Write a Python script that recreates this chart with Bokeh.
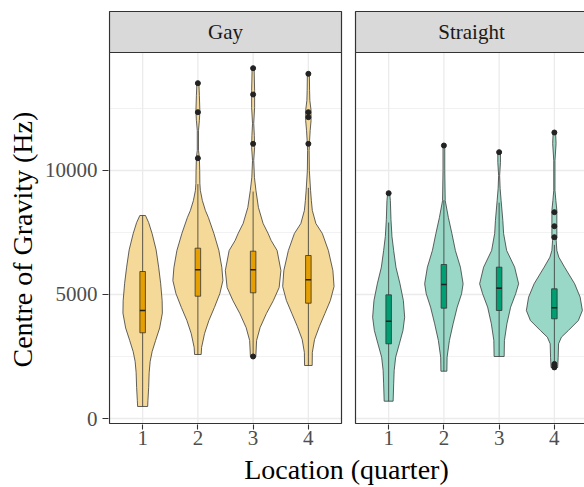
from bokeh.plotting import figure
from bokeh.models import Range1d, FixedTicker, CustomJSTickFormatter, Title, Label
from bokeh.embed import file_html
from bokeh.resources import INLINE

# ---------------- data ----------------
groups = ["Gay", "Straight"]
quarters = [1, 2, 3, 4]
y_ticks = [0, 5000, 10000]
y_minor = [2500, 7500, 12500]

# violin outlines: centre of gravity (Hz) and half-width (x units), bottom to top
gay1_y = [484, 726, 1250, 1850, 2300, 2700, 3150, 3650, 4250, 4750, 5450, 6100, 6800, 7450, 7900, 8185]
gay1_w = [0.091, 0.096, 0.109, 0.118, 0.136, 0.172, 0.235, 0.308, 0.357, 0.353, 0.326, 0.290, 0.244, 0.172, 0.109, 0.051]
gay2_y = [2580, 2863, 3427, 3951, 4476, 5040, 5564, 6088, 6774, 7459, 8104, 8387, 8790, 9193, 9475, 9999, 10524, 10806, 11612, 12015, 12378, 13023, 13520]
gay2_w = [0.060, 0.067, 0.121, 0.199, 0.299, 0.398, 0.453, 0.434, 0.380, 0.290, 0.190, 0.136, 0.081, 0.045, 0.036, 0.033, 0.027, 0.011, 0.011, 0.027, 0.036, 0.027, 0.018]
gay3_y = [2500, 3145, 3669, 4234, 4758, 5282, 5967, 6774, 7177, 7459, 7863, 8508, 9193, 9717, 10403, 10927, 11410, 11894, 12540, 13225, 14124]
gay3_w = [0.049, 0.063, 0.127, 0.241, 0.367, 0.471, 0.503, 0.434, 0.326, 0.272, 0.181, 0.096, 0.051, 0.024, 0.011, 0.027, 0.022, 0.011, 0.027, 0.027, 0.018]
gay4_y = [2137, 2661, 3185, 3709, 4234, 4758, 5322, 5967, 6774, 7459, 7863, 8387, 8790, 9193, 9999, 10806, 11209, 11612, 12015, 12419, 12822, 13225, 13898]
gay4_w = [0.069, 0.072, 0.112, 0.199, 0.299, 0.398, 0.465, 0.444, 0.362, 0.253, 0.136, 0.072, 0.054, 0.040, 0.018, 0.014, 0.022, 0.033, 0.049, 0.049, 0.027, 0.022, 0.018]

str1_y = [698, 1397, 1935, 2472, 3012, 3548, 4084, 4758, 5431, 6101, 6774, 7338, 8024, 8790, 9084]
str1_w = [0.081, 0.091, 0.100, 0.127, 0.194, 0.259, 0.290, 0.266, 0.205, 0.132, 0.091, 0.060, 0.042, 0.031, 0.018]
str2_y = [1907, 2472, 3145, 3818, 4488, 5028, 5431, 6101, 6774, 7459, 8104, 8790, 10000, 11007]
str2_w = [0.054, 0.058, 0.100, 0.167, 0.241, 0.320, 0.348, 0.299, 0.208, 0.145, 0.081, 0.024, 0.016, 0.016]
str3_y = [2500, 3145, 3818, 4488, 5028, 5431, 6101, 6774, 7459, 7984, 8790, 9274, 9798, 10322, 10725]
str3_w = [0.091, 0.096, 0.141, 0.208, 0.299, 0.353, 0.281, 0.136, 0.081, 0.067, 0.036, 0.018, 0.009, 0.024, 0.024]
str4_y = [2056, 2460, 3012, 3278, 3548, 3951, 4355, 4891, 5431, 6101, 6504, 6774, 7177, 7310, 7782, 8387, 8790, 9193, 10403, 11088, 11532]
str4_w = [0.060, 0.069, 0.076, 0.127, 0.253, 0.434, 0.507, 0.467, 0.367, 0.185, 0.081, 0.045, 0.033, 0.045, 0.045, 0.045, 0.027, 0.011, 0.011, 0.031, 0.022]

# box plots
gay_q1 = [3455, 4931, 5068, 4649]
gay_med = [4355, 5995, 5995, 5592]
gay_q3 = [5927, 6867, 6746, 6572]
gay_wlo = [484, 2580, 2540, 2137]
gay_whi = [8185, 9450, 9150, 9300]
str_q1 = [3012, 4449, 4355, 4020]
str_med = [3924, 5403, 5255, 4463]
str_q3 = [4986, 6209, 6102, 5229]
str_wlo = [698, 1907, 2500, 2300]
str_whi = [7900, 8800, 8700, 7000]

# outliers
gay_out_q = [2, 2, 2, 3, 3, 3, 3, 4, 4, 4, 4]
gay_out_hz = [10495, 12350, 13520, 2500, 11076, 13064, 14124, 11076, 12150, 12350, 13898]
str_out_q = [1, 2, 3, 4, 4, 4, 4, 4, 4, 4]
str_out_hz = [9084, 11007, 10738, 2060, 2130, 2200, 7310, 7754, 8319, 11531]

# ---------------- layout constants ----------------
HZ_PER_PX = 40.32
PX_PER_UNIT = 55.24
OFF = 4.2 + 14 / PX_PER_UNIT          # x shift of the second facet
X0 = 0.4 - 1 / PX_PER_UNIT
X1 = X0 + 476 / PX_PER_UNIT
Y0 = -6 * HZ_PER_PX
Y1 = 408 * HZ_PER_PX
PANEL_BOTTOM = -5 * HZ_PER_PX
PANEL_TOP = 366 * HZ_PER_PX
STRIP_TOP = 407 * HZ_PER_PX
STRIP_MID = 386.5 * HZ_PER_PX

FONT = "Liberation Serif"
fills = {"Gay": "#F5D999", "Straight": "#99D8C7"}
box_fills = {"Gay": "#E69F00", "Straight": "#009E73"}
offsets = {"Gay": 0.0, "Straight": OFF}

violins = {
    "Gay": [(gay1_y, gay1_w), (gay2_y, gay2_w), (gay3_y, gay3_w), (gay4_y, gay4_w)],
    "Straight": [(str1_y, str1_w), (str2_y, str2_w), (str3_y, str3_w), (str4_y, str4_w)],
}
boxes = {
    "Gay": (gay_q1, gay_med, gay_q3, gay_wlo, gay_whi),
    "Straight": (str_q1, str_med, str_q3, str_wlo, str_whi),
}
outliers = {"Gay": (gay_out_q, gay_out_hz), "Straight": (str_out_q, str_out_hz)}

p = figure(width=584, height=487, x_range=Range1d(X0, X1), y_range=Range1d(Y0, Y1),
           output_backend="svg", toolbar_location=None, title=None,
           min_border_left=108, min_border_right=0, min_border_top=10, min_border_bottom=63)
p.outline_line_color = None
p.xgrid.visible = False
p.ygrid.visible = False
p.background_fill_color = "white"
p.border_fill_color = "white"

# grid lines per panel
for g in groups:
    o = offsets[g]
    p.segment(x0=[0.4 + o] * 3, x1=[4.6 + o] * 3, y0=y_minor, y1=y_minor,
              line_color="#EBEBEB", line_width=0.7)
    p.segment(x0=[0.4 + o] * 3, x1=[4.6 + o] * 3, y0=y_ticks, y1=y_ticks,
              line_color="#EBEBEB", line_width=1.3)
    p.segment(x0=[q + o for q in quarters], x1=[q + o for q in quarters],
              y0=[PANEL_BOTTOM] * 4, y1=[PANEL_TOP] * 4,
              line_color="#EBEBEB", line_width=1.3)

# violins
for g in groups:
    o = offsets[g]
    xs, ys = [], []
    for q, (vy, vw) in zip(quarters, violins[g]):
        c = q + o
        xs.append([c - w for w in vw] + [c + w for w in reversed(vw)])
        ys.append(list(vy) + list(reversed(vy)))
    p.patches(xs, ys, fill_color=fills[g], fill_alpha=1.0,
              line_color="#3A3A3A", line_width=0.8)

# box plots
for g in groups:
    o = offsets[g]
    q1, med, q3, wlo, whi = boxes[g]
    cx = [q + o for q in quarters]
    p.segment(x0=cx, x1=cx, y0=wlo, y1=whi, line_color="#333333", line_width=0.8)
    p.quad(left=[c - 0.05 for c in cx], right=[c + 0.05 for c in cx], bottom=q1, top=q3,
           fill_color=box_fills[g], line_color="#333333", line_width=0.8)
    p.segment(x0=[c - 0.05 for c in cx], x1=[c + 0.05 for c in cx], y0=med, y1=med,
              line_color="#222222", line_width=1.6)
    oq, ohz = outliers[g]
    p.scatter(x=[q + o for q in oq], y=ohz, size=5, fill_color="#222222", line_color="#222222")

# panel borders and strips
lefts = [0.4 + offsets[g] for g in groups]
rights = [4.6 + offsets[g] for g in groups]
p.quad(left=lefts, right=rights, bottom=[PANEL_BOTTOM] * 2, top=[PANEL_TOP] * 2,
       fill_color=None, line_color="#333333", line_width=1.2)
p.quad(left=lefts, right=rights, bottom=[PANEL_TOP] * 2, top=[STRIP_TOP] * 2,
       fill_color="#D9D9D9", line_color="#333333", line_width=1.2)
for g, l, r in zip(groups, lefts, rights):
    p.add_layout(Label(x=(l + r) / 2, y=STRIP_MID, text=g, text_font=FONT,
                       text_font_size="21px", text_align="center", text_baseline="middle",
                       text_color="#1A1A1A"))

# axes
p.yaxis.ticker = FixedTicker(ticks=y_ticks, minor_ticks=[])
p.xaxis.ticker = FixedTicker(ticks=[q + offsets[g] for g in groups for q in quarters], minor_ticks=[])
p.xaxis.formatter = CustomJSTickFormatter(args=dict(off=OFF, split=4.6),
                                          code="return String(Math.round(tick > split ? tick - off : tick));")
for ax in (p.xaxis, p.yaxis):
    ax.axis_line_color = None
    ax.major_tick_line_color = "#333333"
    ax.major_tick_line_width = 1.1
    ax.major_tick_in = 0
    ax.minor_tick_out = 0
    ax.minor_tick_in = 0
    ax.major_label_text_font = FONT
    ax.major_label_text_font_size = "21px"
    ax.major_label_text_color = "#4D4D4D"
p.yaxis.major_tick_out = 6
p.yaxis.major_label_standoff = 5
p.xaxis.major_tick_out = 5
p.xaxis.major_label_standoff = 1

# axis titles
p.xaxis.axis_label = "Location (quarter)"
p.xaxis.axis_label_text_font = FONT
p.xaxis.axis_label_text_font_size = "28px"
p.xaxis.axis_label_text_font_style = "normal"
p.xaxis.axis_label_text_color = "black"
p.xaxis.axis_label_standoff = 6

p.add_layout(Title(text="Centre of Gravity (Hz)", align="left", offset=57,
                   text_font=FONT, text_font_size="28px", text_font_style="normal",
                   text_color="black", standoff=8), "left")

open("out.html", "w").write(file_html(p, INLINE))
